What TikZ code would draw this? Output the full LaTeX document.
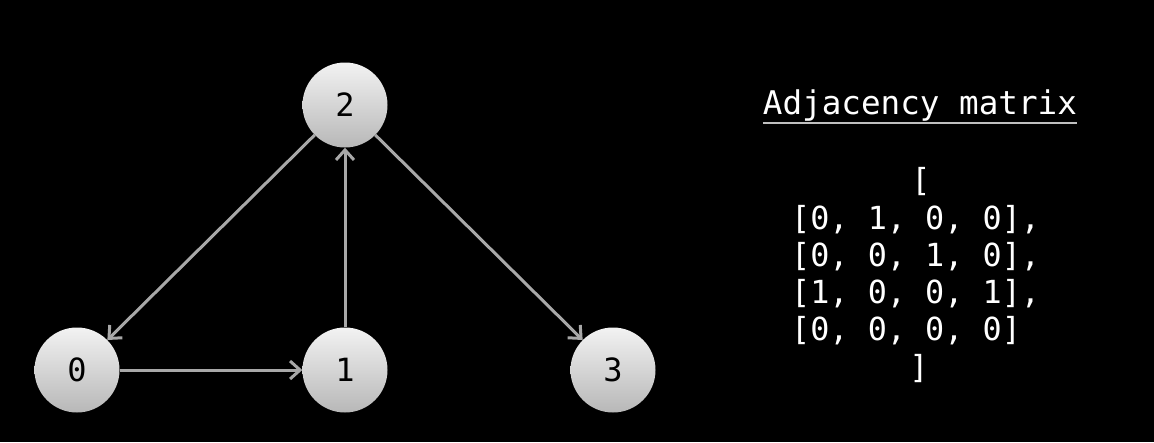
\documentclass[tikz,border=0pt]{standalone}
\usepackage{fontspec}
\setmonofont{DejaVu Sans Mono}
\usepackage{tikz}
\usetikzlibrary{arrows.meta}

\tikzset{
    vertex/.style={circle, minimum size=85pt, inner sep=0pt,
        top color=white!95!black, bottom color=white!72!black,
        text=black, font=\fontsize{32}{36}\selectfont\ttfamily},
    edge/.style={-{Straight Barb[length=10pt, width=18pt]}, draw=white!66!black, line width=3pt},
    mtext/.style={text=white, inner sep=0pt, font=\fontsize{31.8}{36}\selectfont\ttfamily}
}

\begin{document}
\begin{tikzpicture}[x=1pt, y=-1pt]
    \useasboundingbox[fill=black] (0,0) rectangle (1154,442);
    % graph
    \node[vertex] (n2) at (345,105) {2};
    \node[vertex] (n0) at (77,370) {0};
    \node[vertex] (n1) at (345,370) {1};
    \node[vertex] (n3) at (613,370) {3};
    \draw[edge] (n2) -- (n0);
    \draw[edge] (n0) -- (n1);
    \draw[edge] (n1) -- (n2);
    \draw[edge] (n2) -- (n3);
    % matrix
    \node[mtext, font=\fontsize{32.6}{36}\selectfont\ttfamily] (title) at (920,106) {Adjacency matrix};
    \draw[white!75!black, line width=1.5pt] ([yshift=-1pt]title.south west) -- ([yshift=-1pt]title.south east);
    \node[mtext] (open) at (921,182) {[};
    \node[mtext, anchor=west] (r1) at (791,220) {[0, 1, 0, 0],};
    \node[mtext, anchor=west] (r2) at (791,257) {[0, 0, 1, 0],};
    \node[mtext, anchor=west] (r3) at (791,294) {[1, 0, 0, 1],};
    \node[mtext, anchor=west] (r4) at (791,331) {[0, 0, 0, 0]};
    \node[mtext] (close) at (919,369) {]};
\end{tikzpicture}
\end{document}
